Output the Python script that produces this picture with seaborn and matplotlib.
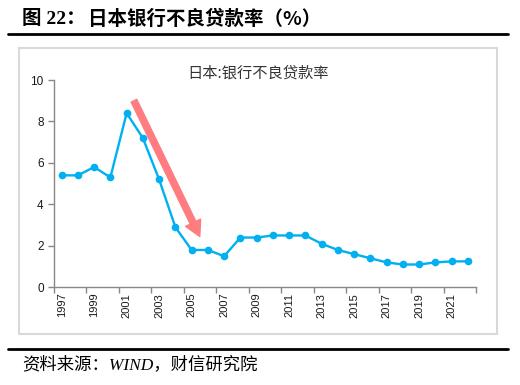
import numpy as np
import pandas as pd
import matplotlib
matplotlib.use("Agg")
import matplotlib.pyplot as plt
import seaborn as sns
from matplotlib.patches import Rectangle
from matplotlib.lines import Line2D

# Japan bank NPL ratio (%)
years = list(range(1997, 2023))
npl_ratio = [5.4, 5.4, 5.8, 5.3, 8.4, 7.2, 5.2, 2.9, 1.8, 1.8, 1.5, 2.4, 2.4,
             2.5, 2.5, 2.5, 2.1, 1.8, 1.6, 1.4, 1.2, 1.1, 1.1, 1.2, 1.25, 1.25]
tick_labels = [str(y) for y in years[::2]]

sns.set_theme(style="white")
plt.rcParams['font.family'] = ['Noto Sans CJK SC', 'DejaVu Sans']

df = pd.DataFrame({'pos': np.arange(len(years)), 'ratio': npl_ratio})

fig = plt.figure(figsize=(5.2, 3.85), dpi=100)
ax = fig.add_axes([0.1029, 0.2538, 0.8125, 0.5384])

blue = '#00B0F0'
sns.lineplot(data=df, x='pos', y='ratio', ax=ax, color=blue, linewidth=1.7,
             marker='o', markersize=5.5, markeredgecolor=blue, markeredgewidth=0)

ax.set_xlim(-0.5, len(years) - 0.5)
ax.set_ylim(0, 10)
ax.set_yticks([0, 2, 4, 6, 8, 10])
ax.set_xlabel('')
ax.set_ylabel('')

# ticks at category boundaries, labels at category centres
ax.set_xticks(np.arange(-0.5, len(years), 2))
ax.set_xticklabels([])
ax.set_xticks(np.arange(0, len(years), 2), minor=True)
ax.set_xticklabels(tick_labels, minor=True, rotation=90,
                   family=['Liberation Sans', 'DejaVu Sans'], fontsize=8, color='#1a1a1a')
ax.tick_params(axis='x', which='major', direction='out', length=4, color='#888888', width=1, bottom=True)
ax.tick_params(axis='x', which='minor', length=0, pad=4)
ax.tick_params(axis='y', direction='out', length=4, color='#888888', width=1, left=True,
               labelsize=8.5, labelcolor='#1a1a1a', pad=3)
for lab in ax.get_yticklabels():
    lab.set_family(['Liberation Sans', 'DejaVu Sans'])

for side in ['top', 'right']:
    ax.spines[side].set_visible(False)
for side in ['left', 'bottom']:
    ax.spines[side].set_color('#888888')
    ax.spines[side].set_linewidth(1)

# downward trend arrow
ax.annotate('', xy=(8.5, 2.45), xytext=(4.45, 9.0),
            arrowprops=dict(arrowstyle='simple,head_length=1.1,head_width=1.2,tail_width=0.45',
                            color='#FF7C80', mutation_scale=10, shrinkA=0, shrinkB=0))

# chart title
fig.text(0.496, 0.81, '日本:银行不良贷款率', ha='center', va='center', fontsize=11, color='#333333')

# grey frame around the chart
fig.patches.append(Rectangle((0.0365, 0.1325), 0.919, 0.743, transform=fig.transFigure,
                             fill=False, edgecolor='#D9D9D9', linewidth=1.5))

# header and footer rules
fig.lines.append(Line2D([0.0154, 0.977], [0.9115, 0.9115], transform=fig.transFigure,
                        color='black', linewidth=2))
fig.lines.append(Line2D([0.0154, 0.977], [0.0935, 0.0935], transform=fig.transFigure,
                        color='black', linewidth=2))

head_font = ['Liberation Serif', 'Noto Sans CJK SC']
fig.text(0.042, 0.95, '图 22：', ha='left', va='center', fontsize=14,
         fontweight='bold', color='black', family=head_font)
fig.text(0.169, 0.95, '日本银行不良贷款率（%）', ha='left', va='center', fontsize=14,
         fontweight='bold', color='black', family=['Noto Sans CJK SC', 'DejaVu Sans'])
fig.text(0.042, 0.052, '资料来源：WIND，财信研究院', ha='left', va='center', fontsize=12.5,
         style='italic', color='black', family=['Liberation Serif', 'Noto Sans CJK SC'])

fig.savefig('out.png', dpi=100, facecolor='white')
